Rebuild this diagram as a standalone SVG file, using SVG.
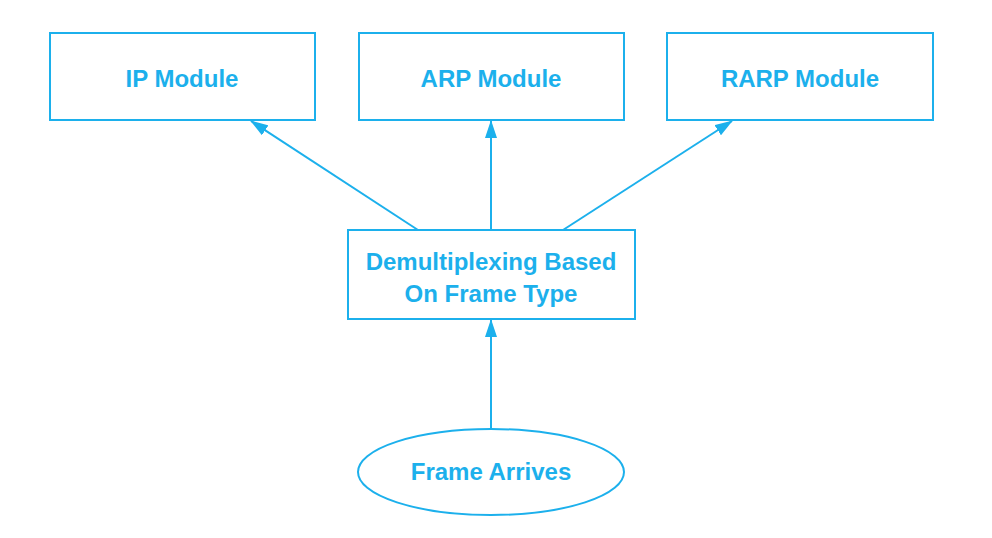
<svg xmlns="http://www.w3.org/2000/svg" width="992" height="538" viewBox="0 0 992 538">
<style>
.box{fill:#fff;stroke:#1cb0ec;stroke-width:2}
.lbl{font-family:"Liberation Sans",Arial,sans-serif;font-weight:bold;font-size:24px;fill:#1cb0ec;text-anchor:middle;dominant-baseline:central}
.conn{stroke:#1cb0ec;stroke-width:2;fill:none}
</style>
<defs>
<marker id="ah" markerWidth="18" markerHeight="12" refX="17" refY="6" orient="auto" markerUnits="userSpaceOnUse" viewBox="0 0 18 12">
<path d="M0,0 L18,6 L0,12 Z" fill="#1cb0ec"/>
</marker>
</defs>
<rect width="992" height="538" fill="#fff"/>
<g id="connectors">
<line class="conn" x1="418" y1="230" x2="251" y2="121" marker-end="url(#ah)"/>
<line class="conn" x1="491" y1="230" x2="491" y2="121" marker-end="url(#ah)"/>
<line class="conn" x1="563" y1="230" x2="732" y2="121" marker-end="url(#ah)"/>
<line class="conn" x1="491" y1="429" x2="491" y2="320" marker-end="url(#ah)"/>
</g>
<g id="ip">
<rect class="box" x="50" y="33" width="265" height="87"/>
<text class="lbl" x="182" y="78">IP Module</text>
</g>
<g id="arp">
<rect class="box" x="359" y="33" width="265" height="87"/>
<text class="lbl" x="491" y="78">ARP Module</text>
</g>
<g id="rarp">
<rect class="box" x="667" y="33" width="266" height="87"/>
<text class="lbl" x="800" y="78">RARP Module</text>
</g>
<g id="demux">
<rect class="box" x="348" y="230" width="287" height="89"/>
<text class="lbl" x="491" y="261">Demultiplexing Based</text>
<text class="lbl" x="491" y="293">On Frame Type</text>
</g>
<g id="frame">
<ellipse class="box" cx="491" cy="472" rx="133" ry="43"/>
<text class="lbl" x="491" y="471">Frame Arrives</text>
</g>
</svg>
